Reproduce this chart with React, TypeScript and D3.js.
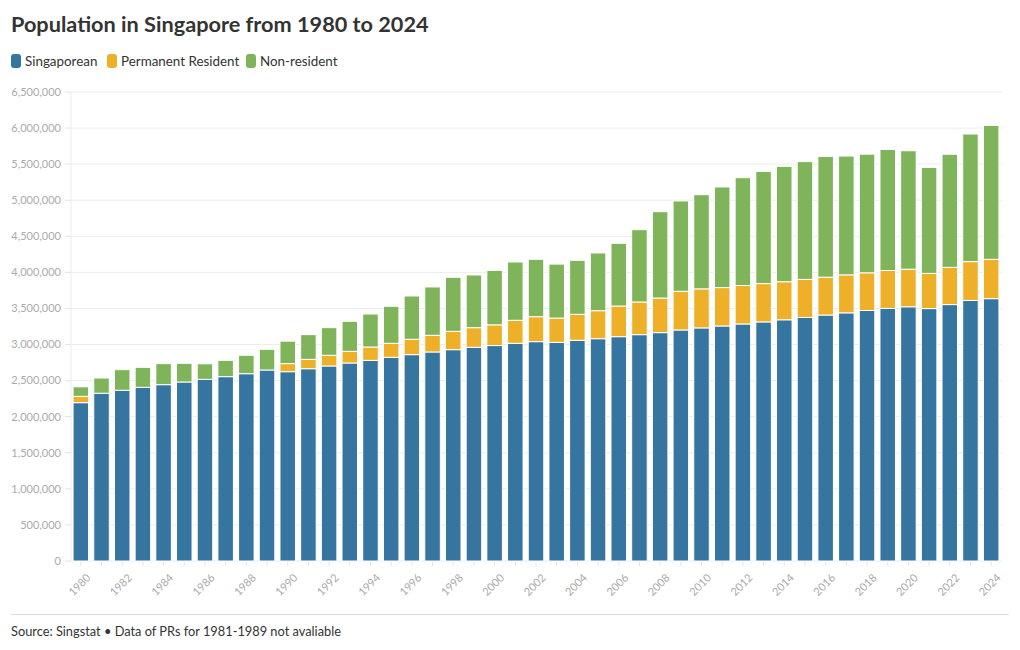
import React from "react";
import * as d3 from "d3";

const years = d3.range(1980, 2025).map(String);
const singaporean = [
  2194280, 2325000, 2366000, 2407000, 2444000, 2481000, 2518000, 2555000, 2596000, 2647000,
  2623736, 2665000, 2703000, 2744000, 2781000, 2823000, 2860000, 2897000, 2929000, 2962000,
  2985886, 3017000, 3040000, 3030000, 3059000, 3081001, 3109000, 3137000, 3165000, 3202000,
  3230719, 3257228, 3285140, 3313507, 3343030, 3375023, 3408943, 3439177, 3471936, 3500940,
  3523191, 3498191, 3553749, 3610658, 3635924,
];
const permanentResident = [
  87845, 0, 0, 0, 0, 0, 0, 0, 0, 0,
  112132, 130000, 148000, 162000, 185000, 194000, 213000, 231000, 254000, 272000,
  287525, 319000, 346000, 337000, 360000, 388000, 425000, 453000, 480000, 536000,
  541002, 532005, 533115, 531236, 527731, 527700, 524597, 526553, 522295, 525276,
  521033, 488009, 515975, 538557, 544938,
];
const nonResident = [
  131820, 211000, 286000, 277000, 291000, 259000, 215000, 226000, 255000, 287000,
  311264, 342000, 383000, 416000, 457000, 513000, 600000, 670000, 749000, 730000,
  754524, 808000, 795000, 748000, 748000, 800000, 869000, 1002000, 1196000, 1252000,
  1305011, 1394400, 1494182, 1554419, 1598963, 1632279, 1673743, 1646523, 1644445, 1677353,
  1641583, 1467366, 1567298, 1768433, 1855998,
];
const seriesNames = ["Singaporean", "Permanent Resident", "Non-resident"];
const seriesColors = ["#35759f", "#eeb029", "#7fb45a"];
const yTicks = d3.range(0, 6500001, 500000);
const xLabelYears = years.filter((_, i) => i % 2 === 0);

const W = 1020, H = 650;
const FONT = "Lato, 'Source Sans Pro', 'Open Sans', sans-serif";

export default function App() {
  const rows = years.map((y, i) => ({
    year: y,
    s0: singaporean[i],
    s1: permanentResident[i],
    s2: nonResident[i],
  }));
  const stack = d3.stack<any>().keys(["s0", "s1", "s2"]);
  const stacked = stack(rows);

  const x = d3.scaleBand().domain(years).range([71, 1001]).paddingInner(0.25).paddingOuter(0.1);
  const y = d3.scaleLinear().domain([0, 6500000]).range([561, 92]);
  const fmt = d3.format(",");

  const legendX = [11, 107, 246];

  return (
    <svg width={W} height={H} style={{ position: "absolute", left: 0, top: 0, background: "#fff" }} fontFamily={FONT}>
      <text x={11} y={32} fontSize={21.7} fontWeight={700} fill="#333">
        Population in Singapore from 1980 to 2024
      </text>
      {seriesNames.map((n, i) => (
        <g key={n} transform={`translate(${legendX[i]},54)`}>
          <rect x={0} y={0} width={10} height={14} rx={3} fill={seriesColors[i]} />
          <text x={14} y={12} fontSize={13.4} fill="#333">{n}</text>
        </g>
      ))}
      {yTicks.map((t) => (
        <g key={t}>
          <line x1={71} x2={1002} y1={y(t)} y2={y(t)} stroke="#ececec" strokeWidth={1} />
          <line x1={65} x2={71} y1={y(t)} y2={y(t)} stroke="#e4e4e4" strokeWidth={1} />
          <text x={61} y={y(t)} dy="0.35em" textAnchor="end" fontSize={11} fill="#aaa">
            {fmt(t)}
          </text>
        </g>
      ))}
      <line x1={71} x2={71} y1={92} y2={561} stroke="#ececec" />
      {stacked.map((layer, li) => (
        <g key={li} fill={seriesColors[li]}>
          {layer.map((d, i) =>
            d[1] - d[0] > 0 ? (
              <rect
                key={i}
                x={x(years[i])}
                width={x.bandwidth()}
                y={y(d[1])}
                height={y(d[0]) - y(d[1])}
                stroke="#fff"
                strokeWidth={1}
              />
            ) : null
          )}
        </g>
      ))}
      {years.map((yr) => (
        <line key={yr} x1={x(yr)! + x.bandwidth() / 2} x2={x(yr)! + x.bandwidth() / 2} y1={562} y2={566} stroke="#e4e4e4" />
      ))}
      {xLabelYears.map((yr) => {
        const cx = x(yr)! + x.bandwidth() / 2;
        return (
          <text key={yr} transform={`translate(${cx + 5},${573}) rotate(-45)`} textAnchor="end" dy="0.7em" fontSize={11} fill="#aaa">
            {yr}
          </text>
        );
      })}
      <line x1={11} x2={1009} y1={614.5} y2={614.5} stroke="#ddd" />
      <text x={11} y={636} fontSize={12.8} fill="#333">
        Source: Singstat • Data of PRs for 1981-1989 not avaliable
      </text>
    </svg>
  );
}
